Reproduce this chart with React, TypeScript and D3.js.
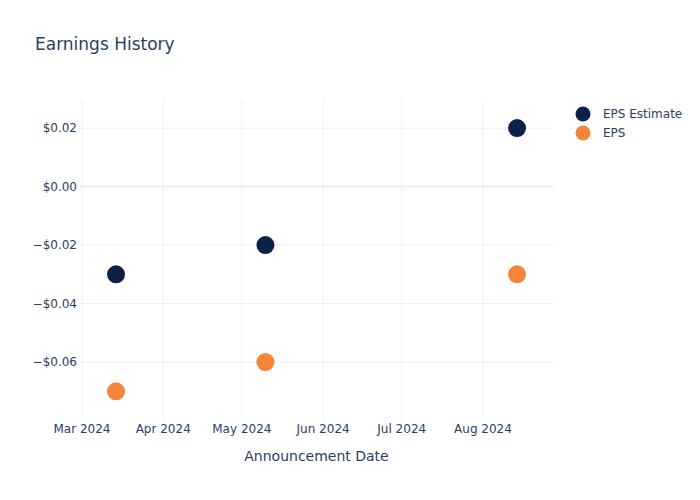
import React from "react";
import * as d3 from "d3";

const dates = ["2024-03-14", "2024-05-10", "2024-08-14"];
const epsEstimate = [-0.03, -0.02, 0.02];
const eps = [-0.07, -0.06, -0.03];
const yTicks = [-0.06, -0.04, -0.02, 0, 0.02];
const xTickDates = ["2024-03-01", "2024-04-01", "2024-05-01", "2024-06-01", "2024-07-01", "2024-08-01"];
const seriesNames = ["EPS Estimate", "EPS"];
const seriesColors = ["#0d2144", "#f6843a"];

const W = 700, H = 500;
const L = 80, R = 553, T = 100, B = 420;
const FONT = "'DejaVu Sans', Verdana, sans-serif";
const TEXT = "#2a3f5f";
const GRID = "#ebf0f8";

const parse = d3.utcParse("%Y-%m-%d");

export default function App() {
  const x = d3.scaleUtc()
    .domain([parse("2024-02-29")!.getTime() + 6 * 3600e3, parse("2024-08-27")!.getTime() + 17 * 3600e3].map(t => new Date(t)))
    .range([L, R]);
  const y = d3.scaleLinear().domain([-0.0798, 0.0296]).range([B, T]);
  const fmtY = (v: number) => (v < 0 ? "\u2212$" : "$") + Math.abs(v).toFixed(2);
  const fmtX = d3.utcFormat("%b %Y");
  const series = [epsEstimate, eps];

  return (
    <svg width={W} height={H} style={{ position: "absolute", left: 0, top: 0, background: "#fff" }} fontFamily={FONT}>
      <rect x={0} y={0} width={W} height={H} fill="#fff" />
      {xTickDates.map((d) => {
        const xx = x(parse(d)!);
        return <line key={d} x1={xx} x2={xx} y1={T} y2={B} stroke={GRID} strokeWidth={1} />;
      })}
      {yTicks.map((v) => (
        <line key={v} x1={L} x2={R} y1={y(v)} y2={y(v)} stroke={GRID} strokeWidth={v === 0 ? 2 : 1} />
      ))}
      {yTicks.map((v) => (
        <text key={"t" + v} x={L - 3} y={y(v)} dy="0.35em" textAnchor="end" fontSize={12} fill={TEXT}>{fmtY(v)}</text>
      ))}
      {xTickDates.map((d) => (
        <text key={"x" + d} x={x(parse(d)!)} y={B + 4} dy="0.71em" textAnchor="middle" fontSize={12} fill={TEXT}>{fmtX(parse(d)!)}</text>
      ))}
      <text x={(L + R) / 2} y={461} textAnchor="middle" fontSize={14} fill={TEXT}>Announcement Date</text>
      <text x={35} y={50} fontSize={17} fill={TEXT}>Earnings History</text>
      {series.map((s, si) =>
        s.map((v, i) => (
          <circle key={si + "-" + i} cx={x(parse(dates[i])!)} cy={y(v)} r={9} fill={seriesColors[si]} />
        ))
      )}
      {seriesNames.map((n, i) => (
        <g key={n} transform={`translate(583,${114 + i * 19})`}>
          <circle r={7.5} fill={seriesColors[i]} />
          <text x={20} dy="0.35em" fontSize={12} fill={TEXT}>{n}</text>
        </g>
      ))}
    </svg>
  );
}
